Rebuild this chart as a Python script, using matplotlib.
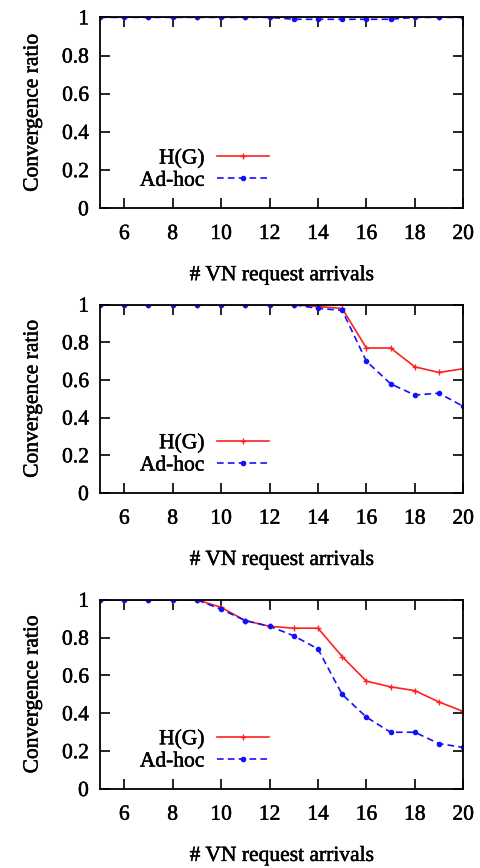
import matplotlib
matplotlib.use("Agg")
import matplotlib.pyplot as plt
import matplotlib.patheffects as pe

plt.rcParams['font.family'] = ['Liberation Serif', 'DejaVu Serif']

arrivals = list(range(5, 21))

# panel 1
hg_1 = [1, 1, 1, 1, 1, 1, 1, 1, 1, 1, 1, 1, 1, 1, 1, 1]
adhoc_1 = [1, 1, 1, 1, 1, 1, 1, 1, 0.99, 0.99, 0.99, 0.99, 0.99, 1, 1, 1]

# panel 2
hg_2 = [1, 1, 1, 1, 1, 1, 1, 1, 1, 0.99, 0.98, 0.77, 0.77, 0.67, 0.64, 0.66]
adhoc_2 = [1, 1, 1, 1, 1, 1, 1, 1, 1, 0.98, 0.97, 0.70, 0.58, 0.52, 0.53, 0.46]

# panel 3
hg_3 = [1, 1, 1, 1, 1, 0.96, 0.89, 0.86, 0.85, 0.85, 0.70, 0.57, 0.54, 0.52, 0.46, 0.41]
adhoc_3 = [1, 1, 1, 1, 1, 0.95, 0.89, 0.86, 0.81, 0.74, 0.50, 0.38, 0.30, 0.30, 0.24, 0.22]

x_ticks = [6, 8, 10, 12, 14, 16, 18, 20]
y_ticks = [0, 0.2, 0.4, 0.6, 0.8, 1]
y_ticklabels = ["0", "0.2", "0.4", "0.6", "0.8", "1"]

panels = [(hg_1, adhoc_1), (hg_2, adhoc_2), (hg_3, adhoc_3)]
# axes boxes in figure fractions (left, bottom, width, height)
boxes = [(0.208, 0.760, 0.755, 0.220),
         (0.208, 0.432, 0.755, 0.217),
         (0.208, 0.091, 0.755, 0.218)]

fs = 15.5
# scanned-print look: thicken the glyphs a little
thick = [pe.withStroke(linewidth=0.35, foreground="black")]

fig = plt.figure(figsize=(4.81, 8.68), dpi=100)

for (hg, adhoc), box in zip(panels, boxes):
    ax = fig.add_axes(box)
    ax.plot(arrivals, hg, color="#ff2020", lw=1.2, marker="+", ms=5, mew=1.0, label="H(G)")
    ax.plot(arrivals, adhoc, color="#1010ff", lw=1.2, ls=(0, (4, 2.5)), marker="o", ms=3,
            label="Ad-hoc")
    ax.set_xlim(5, 20)
    ax.set_ylim(0, 1)
    ax.set_xticks(x_ticks)
    ax.set_yticks(y_ticks)
    ax.set_yticklabels(y_ticklabels)
    ax.tick_params(direction="in", length=7, width=1.2, top=True, right=True, labelsize=fs)
    ax.tick_params(axis="x", pad=12)
    ax.tick_params(axis="y", pad=8)
    for sp in ax.spines.values():
        sp.set_linewidth(1.3)
    ax.set_xlabel("# VN request arrivals", fontsize=fs, labelpad=16)
    ax.set_ylabel("Convergence ratio", fontsize=fs, labelpad=14)
    leg = ax.legend(loc="lower left", bbox_to_anchor=(0.068, 0.013), frameon=False,
                    markerfirst=False, fontsize=fs, handlelength=2.4, handletextpad=0.6,
                    labelspacing=0.1, borderpad=0.2)
    texts = (ax.get_xticklabels() + ax.get_yticklabels() + leg.get_texts()
             + [ax.xaxis.label, ax.yaxis.label])
    for t in texts:
        t.set_path_effects(thick)

fig.savefig("out.png", dpi=100)
